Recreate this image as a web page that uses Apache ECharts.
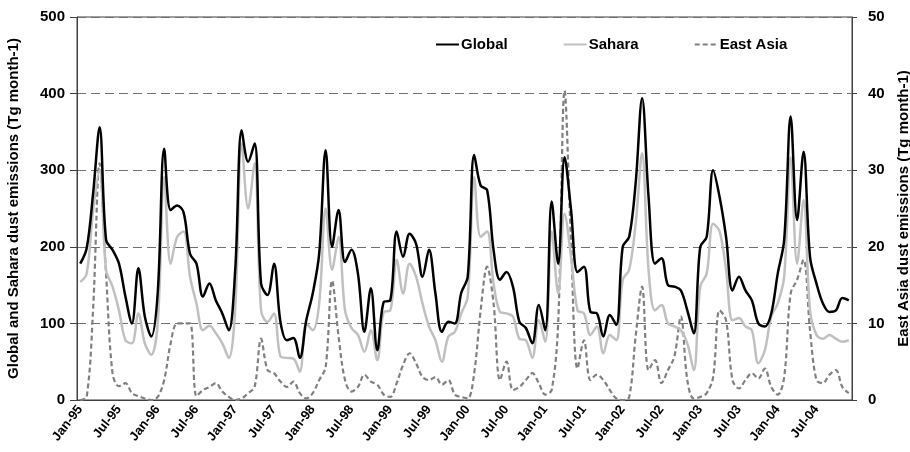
<!DOCTYPE html>
<html>
<head>
<meta charset="utf-8">
<script src="https://cdn.jsdelivr.net/npm/echarts@6/dist/echarts.min.js"></script>
<style>html,body{margin:0;padding:0;background:#fff}#c{width:910px;height:452px}</style>
</head>
<body>
<div id="c"></div>
<script>
const monthNames = ['Jan','Feb','Mar','Apr','May','Jun','Jul','Aug','Sep','Oct','Nov','Dec'];
const years = ['95','96','97','98','99','00','01','02','03','04'];
const categories = [];
years.forEach(y => monthNames.forEach(m => categories.push(m + '-' + y)));

const globalVals = [
 178,198,270,356,209,196,178,135,100,172,109,83,
 140,328,248,254,245,191,178,135,152,130,113,91,
 170,352,311,335,152,137,178,102,78,81,55,104,
 139,191,326,200,248,180,196,165,89,146,65,128,
 130,220,187,217,204,161,196,139,89,102,100,140,
 161,320,280,274,196,157,167,148,102,94,74,124,
 91,259,178,317,248,167,174,115,113,83,111,98,
 200,213,283,394,265,178,185,150,148,143,117,87,
 200,213,300,265,213,143,161,143,130,100,96,113,
 165,209,370,235,324,187,152,126,115,117,133,130
];
const saharaVals = [
 154,165,248,300,170,148,117,78,74,113,74,59,
 100,291,178,213,220,161,126,91,97,87,74,55,
 120,335,250,309,117,102,113,57,55,54,37,100,
 91,126,250,170,213,117,94,85,63,91,52,115,
 117,183,139,178,161,126,96,78,50,83,89,113,
 135,291,213,220,152,115,113,109,80,78,55,104,
 76,220,139,243,187,117,113,85,96,61,85,78,
 157,170,230,322,170,117,124,100,96,91,74,39,
 148,165,230,220,170,104,107,96,91,48,65,109,
 126,161,317,178,261,117,85,80,85,80,76,78
];
const eastAsiaVals = [
 0,0.4,12,30.9,16.5,3.5,1.8,2.2,0.9,0.5,0.2,0,
 0.4,2.6,7.4,10,10,10,0.5,1.3,1.7,2.2,1.1,0.4,
 0,0.2,0.9,1.7,8,3.9,3.5,2.4,1.7,2.4,0.9,0.2,
 0.9,2.6,4.3,15.6,8.3,2.6,1.1,1.7,3.3,2.4,2,0.7,
 0.4,2.2,4.6,6.1,4.8,3,2.6,3,2,2.6,0.7,0.4,
 0.2,3.5,11.7,17.4,12.6,2.6,5,1.3,1.7,2.6,3.5,2.2,
 0.7,1.3,10,40.4,20.5,4.1,7.8,2.6,3.3,2.6,1.3,0.2,
 0,0.4,8.3,14.8,3.9,5.2,2.2,3.9,5.7,10.9,2.6,0.2,
 0.4,0.9,3,11.7,10.4,2.6,1.5,2.6,3.5,2.8,4.1,1.7,
 0.7,3,13.9,15.7,18.3,9.1,2.6,2.2,3.3,3.9,1.7,0.9
];
const seriesNames = ['Global','Sahara','East Asia'];
const leftAxisName = 'Global and Sahara dust emissions (Tg month-1)';
const rightAxisName = 'East Asia dust emissions (Tg month-1)';

const FONT = '"Liberation Sans", Arial, sans-serif';
const chart = echarts.init(document.getElementById('c'), null, {renderer:'canvas'});
chart.setOption({
  animation: false,
  backgroundColor: '#fff',
  grid: {left: 77, right: 58, top: 17, bottom: 52, containLabel: false, outerBoundsMode: 'none',
         show: true, borderColor: '#404040', borderWidth: 1, backgroundColor: 'transparent'},
  legend: {
    left: 430, top: 32, itemWidth: 23, itemHeight: 4, itemGap: 55,
    itemStyle: {opacity: 0, borderWidth: 0},
    textStyle: {fontFamily: FONT, fontWeight: 'bold', fontSize: 15, color: '#000', padding:[0,0,0,-3]},
    data: seriesNames.map(n => ({name: n}))
  },
  xAxis: {
    type: 'category', data: categories, boundaryGap: true,
    axisLine: {lineStyle: {color: '#404040', width: 1}},
    axisTick: {interval: 5, length: 5, lineStyle: {color: '#404040'}},
    axisLabel: {interval: 5, rotate: 52, margin: 7, fontFamily: FONT, fontWeight: 'bold', fontSize: 13, color: '#000'},
    splitLine: {show: false}
  },
  yAxis: [
    {type: 'value', min: 0, max: 500, interval: 100, position: 'left',
     name: leftAxisName, nameLocation: 'middle', nameGap: 56, nameRotate: 90,
     nameTextStyle: {fontFamily: FONT, fontWeight: 'bold', fontSize: 15, color: '#000'},
     axisLine: {show: true, lineStyle: {color: '#404040'}},
     axisTick: {show: true, length: 7, lineStyle: {color: '#404040'}},
     axisLabel: {margin: 12, fontFamily: FONT, fontWeight: 'bold', fontSize: 15, color: '#000'},
     splitLine: {show: true, lineStyle: {color: '#707070', width: 1.2, type: [9, 5]}}},
    {type: 'value', min: 0, max: 50, interval: 10, position: 'right',
     name: rightAxisName, nameLocation: 'middle', nameGap: 44, nameRotate: 90,
     nameTextStyle: {fontFamily: FONT, fontWeight: 'bold', fontSize: 15, color: '#000'},
     axisLine: {show: true, lineStyle: {color: '#404040'}},
     axisTick: {show: true, length: 5, lineStyle: {color: '#404040'}},
     axisLabel: {margin: 16, fontFamily: FONT, fontWeight: 'bold', fontSize: 15, color: '#000'},
     splitLine: {show: false}}
  ],
  series: [
    {name: seriesNames[2], type: 'line', yAxisIndex: 1, data: eastAsiaVals, smooth: 0.35, symbol: 'none',
     lineStyle: {color: '#808080', width: 2.2, type: [5, 3]}, itemStyle: {color: '#808080'}, z: 2},
    {name: seriesNames[1], type: 'line', yAxisIndex: 0, data: saharaVals, smooth: 0.35, symbol: 'none',
     lineStyle: {color: '#c0c0c0', width: 2.5}, itemStyle: {color: '#c0c0c0'}, z: 3},
    {name: seriesNames[0], type: 'line', yAxisIndex: 0, data: globalVals, smooth: 0.35, symbol: 'none',
     lineStyle: {color: '#000', width: 2.5}, itemStyle: {color: '#000'}, z: 4}
  ]
});
</script>
</body>
</html>
